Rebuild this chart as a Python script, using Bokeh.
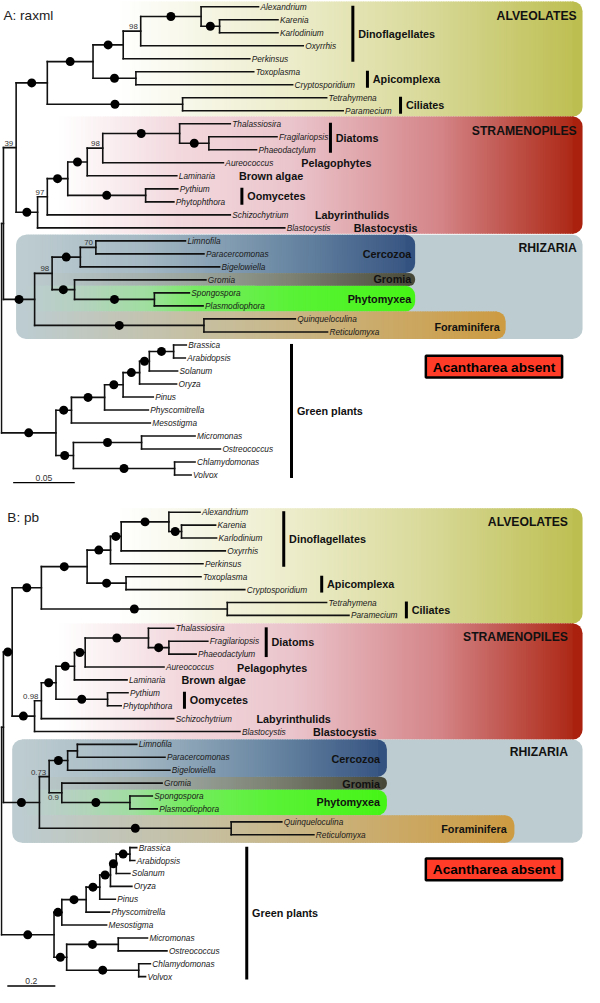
import numpy as np
from bokeh.plotting import figure
from bokeh.models import Range1d
from bokeh.core.properties import value
from bokeh.embed import file_html
from bokeh.resources import INLINE

# ---------------- DATA ----------------
# Branch lengths in substitutions/site, '*' = maximal support (black dot), numbers = support values
alv_A = "(((((Alexandrium:0.0466,(Karenia:0.0474,Karlodinium:0.0474)*:0.0150)*:0.0490,Oxyrrhis:0.1319)98:0.0142,Perkinsus:0.1027)*:0.0245,(Toxoplasma:0.0956,Cryptosporidium:0.1272)*:0.0348)*:0.0371,(Tetrahymena:0.1169,Paramecium:0.1303)*:0.1098)*:0.0253"
stram_A = "((((((Thalassiosira:0.0411,(Fragilariopsis:0.0553,Phaeodactylum:0.0387)*:0.0237)*:0.0624,Aureococcus:0.0979)98:0.0126,Laminaria:0.0727)*:0.0158,(Pythium:0.0261,Phytophthora:0.0229)*:0.0632)*:0.0166,Schizochytrium:0.1485)97:0.0079,Blastocystis:0.2006)*:0.0174"
rhiz_A = "((((Limnofila:0.0727,Paracercomonas:0.0877)70:0.0126,Bigelowiella:0.1130)*:0.0229,(Gromia:0.1066,(Spongospora:0.0284,Plasmodiophora:0.0395)*:0.0648)*:0.0182)98:0.0142,(Quinqueloculina:0.0742,Reticulomyxa:0.1003)*:0.1374)*:0.0253"
green_A = "(((((((Brassica:0.0103,Arabidopsis:0.0095)*:0.0197,Solanum:0.0229)*:0.0079,Oryza:0.0300)*:0.0134,Pinus:0.0245)*:0.0150,Physcomitrella:0.0355)*:0.0269,Mesostigma:0.0640)*:0.0126,((Micromonas:0.0434,Ostreococcus:0.0640)*:0.0553,(Chlamydomonas:0.0166,Volvox:0.0134)*:0.0821)*:0.0142)*:0.0442"
tree_A = f"((({alv_A},{stram_A})39:0.0103,{rhiz_A}):0.0016,{green_A});"

alv_B = "(((((Alexandrium:0.1297,(Karenia:0.1419,Karlodinium:0.1459)*:0.0527)*:0.1986,Oxyrrhis:0.4337)*:0.0446,Perkinsus:0.3851)*:0.0973,(Toxoplasma:0.3121,Cryptosporidium:0.4945)*:0.1621)*:0.1905,(Tetrahymena:0.4135,Paramecium:0.5067)*:0.7742)*:0.1216"
stram_B = "((((((Thalassiosira:0.1054,(Fragilariopsis:0.1621,Phaeodactylum:0.1135)*:0.0851)*:0.2635,Aureococcus:0.3283)*:0.0446,Laminaria:0.2189)*:0.0770,(Pythium:0.0851,Phytophthora:0.0567)*:0.2148)*:0.0608,Schizochytrium:0.5513)0.98:0.0284,Blastocystis:0.8553)*:0.0932"
rhiz_B = "((((Limnofila:0.2473,Paracercomonas:0.3648):0.0405,Bigelowiella:0.4256)*:0.0770,(Gromia:0.4175,(Spongospora:0.0932,Plasmodiophora:0.1135)*:0.2837)0.9:0.0527)0.73:0.0405,(Quinqueloculina:0.2108,Reticulomyxa:0.3445)*:0.7985)*:0.1500"
green_B = "(((((((Brassica:0.0284,Arabidopsis:0.0203)*:0.0567,Solanum:0.0567)*:0.0243,Oryza:0.0892)*:0.0446,Pinus:0.0649)*:0.0567,Physcomitrella:0.0973)*:0.1013,Mesostigma:0.1865)*:0.0324,((Micromonas:0.1216,Ostreococcus:0.2027)*:0.2148,(Chlamydomonas:0.0486,Volvox:0.0284)*:0.3000)*:0.0527)*:0.2189"
tree_B = f"((({alv_B},{stram_B})*:0.0365,{rhiz_B}):0.0081,{green_B});"

titles = ["A: raxml", "B: pb"]
scale_values = [0.05, 0.2]
scale_labels = ["0.05", "0.2"]
labels_below = ["0.9"]

# clade labels: (text, first leaf, last leaf, has bar)
groups = [("Dinoflagellates", "Alexandrium", "Perkinsus", True),
          ("Apicomplexa", "Toxoplasma", "Cryptosporidium", True),
          ("Ciliates", "Tetrahymena", "Paramecium", True),
          ("Diatoms", "Thalassiosira", "Phaeodactylum", True),
          ("Pelagophytes", "Aureococcus", "Aureococcus", False),
          ("Brown algae", "Laminaria", "Laminaria", False),
          ("Oomycetes", "Pythium", "Phytophthora", True),
          ("Labyrinthulids", "Schizochytrium", "Schizochytrium", False),
          ("Blastocystis", "Blastocystis", "Blastocystis", False),
          ("Green plants", "Brassica", "Volvox", True)]
supergroups = ["ALVEOLATES", "STRAMENOPILES", "RHIZARIA"]
rhizaria_groups = ["Cercozoa", "Gromia", "Phytomyxea", "Foraminifera"]
absent_label = "Acantharea absent"

# ---------------- LAYOUT (positions in reference-pixel units) ----------------
panels = [
    dict(tree=tree_A, x_root=1, y_first=6.3, dy=13.22, ppu=1266.0, title_xy=(3, 15),
         scale_x=13, scale_y=490,
         group_x=[362, 377, 411, 339, 309, 245, 248, 323, 363, 299],
         alv=(1, 118), stram=(118, 237), rh=(16, 238, 344),
         bands=[(238, 277, 426, 10), (277, 290, 426, 6), (290, 316, 426, 10), (316, 344, 519, 10)],
         super_x=592, super_y=[16, 133, 252], rg_x=[422, 422, 422, 513], rg_y=[258, 283, 303, 332],
         absent=(437, 577, 361, 383)),
    dict(tree=tree_B, x_root=1, y_first=520, dy=13.11, ppu=246.7, title_xy=(7, 525),
         scale_x=7, scale_y=1001.5,
         group_x=[291, 330, 417, 273, 243, 186, 189, 263, 321, 253],
         alv=(516, 633), stram=(633, 751), rh=(12, 751, 856),
         bands=[(751, 789, 397, 10), (789, 802, 397, 6), (802, 828, 397, 10), (828, 856, 528, 10)],
         super_x=583, super_y=[530, 647, 764], rg_x=[390, 390, 390, 520], rg_y=[771, 796, 815, 842],
         absent=(437, 577, 872, 894)),
]

RH = (189, 204, 208)
alv_stops = [(0, (255, 255, 255)), (0.38, (236, 236, 202)), (0.67, (216, 217, 152)), (1, (189, 190, 80))]
stram_stops = [(0, (255, 255, 255)), (0.22, (243, 218, 223)), (0.45, (234, 196, 203)), (0.73, (212, 132, 135)), (1, (170, 34, 14))]
band_stops = [
    [(0, RH), (0.3, (165, 185, 196)), (0.68, (105, 135, 163)), (1, (52, 82, 128))],
    [(0, RH), (0.43, (155, 165, 158)), (0.68, (125, 130, 115)), (1, (72, 72, 56))],
    [(0, RH), (0.15, (180, 210, 190)), (0.31, (160, 222, 160)), (0.435, (120, 235, 100)), (0.68, (90, 242, 55)), (1, (70, 245, 22))],
    [(0, RH), (0.45, (200, 188, 150)), (1, (205, 155, 66))],
]

F = "Liberation Sans"


def parse_newick(s):
    pos = 0

    def node():
        nonlocal pos
        kids = []
        if s[pos] == "(":
            pos += 1
            kids.append(node())
            while s[pos] == ",":
                pos += 1
                kids.append(node())
            pos += 1
        st = pos
        while s[pos] not in ":,);":
            pos += 1
        name = s[st:pos]
        length = 0.0
        if s[pos] == ":":
            pos += 1
            st = pos
            while s[pos] not in ",);":
                pos += 1
            length = float(s[st:pos])
        return {"name": name, "len": length, "kids": kids}
    return node()


def layout(tree, x_root, y_first, dy, ppu):
    o = {k: [] for k in ["hx0", "hx1", "hy", "vx", "vy0", "vy1", "dotx", "doty",
                         "sx", "sy", "st", "bx", "by", "bt", "lx", "ly", "lt"]}
    leafy = {}
    cnt = [0]

    def rec(n, px, root=False):
        x = px if root else px + n["len"] * ppu
        if n["kids"]:
            for k in n["kids"]:
                rec(k, x)
            y = (n["kids"][0]["y"] + n["kids"][-1]["y"]) / 2
            o["vx"].append(x); o["vy0"].append(n["kids"][0]["y"]); o["vy1"].append(n["kids"][-1]["y"])
        else:
            y = y_first + cnt[0] * dy
            cnt[0] += 1
            o["lx"].append(x + 2); o["ly"].append(y); o["lt"].append(n["name"])
            leafy[n["name"]] = y
        n["x"], n["y"] = x, y
        if not root:
            o["hx0"].append(px); o["hx1"].append(x); o["hy"].append(y)
            if n["kids"] and n["name"] == "*":
                o["dotx"].append((px + x) / 2); o["doty"].append(y)
            elif n["kids"] and n["name"]:
                if n["name"] in labels_below:
                    o["bx"].append(x - 3); o["by"].append(y + 2); o["bt"].append(n["name"])
                else:
                    o["sx"].append(x - 3); o["sy"].append(y - 2); o["st"].append(n["name"])
    rec(tree, x_root, True)
    return o, leafy


def lerp_color(stops, t):
    t = min(max(t, 0.0), 1.0)
    for (t0, c0), (t1, c1) in zip(stops[:-1], stops[1:]):
        if t <= t1:
            f = (t - t0) / (t1 - t0) if t1 > t0 else 0
            return "#%02x%02x%02x" % tuple(int(round(a + (b - a) * f)) for a, b in zip(c0, c1))
    return "#%02x%02x%02x" % stops[-1][1]


p = figure(width=584, height=987, x_range=Range1d(0, 600), y_range=Range1d(1003, 0),
           output_backend="svg", toolbar_location=None, x_axis_type=None, y_axis_type=None,
           min_border=0)
p.grid.visible = False
p.outline_line_color = None
p.background_fill_color = "white"


def grad_box(x0, x1, top, bottom, stops, r, step=2.5):
    xe = x1 - r
    lefts = np.arange(x0, xe, step)
    rights = np.minimum(lefts + step + 0.9, xe + 0.6)
    cols = [lerp_color(stops, ((l + rr) / 2 - x0) / (x1 - x0)) for l, rr in zip(lefts, rights)]
    p.quad(left=lefts, right=rights, top=top, bottom=bottom, fill_color=cols, line_color=None)
    p.quad(left=[xe], right=[x1], top=[top], bottom=[bottom], fill_color=lerp_color(stops, 1.0),
           line_color=None, border_radius=(0, r, r, 0))


for i, P in enumerate(panels):
    o, leafy = layout(parse_newick(P["tree"]), P["x_root"], P["y_first"], P["dy"], P["ppu"])

    # coloured clade boxes
    grad_box(120, 598, P["alv"][0], P["alv"][1], alv_stops, 10)
    grad_box(60, 598, P["stram"][0], P["stram"][1], stram_stops, 10)
    rx0, rt, rb = P["rh"]
    p.quad(left=[rx0], right=[598], top=[rt], bottom=[rb], fill_color="#bdccd0", line_color=None,
           border_radius=10)
    for (bt, bb, bx1, r), st in zip(P["bands"], band_stops):
        grad_box(rx0 + 10, bx1, bt, bb, st, r)
    ax0, ax1, at, ab = P["absent"]
    p.quad(left=[ax0], right=[ax1], top=[at], bottom=[ab], fill_color="#ff3c28",
           line_color="black", line_width=2.5)
    p.text(x=[(ax0 + ax1) / 2], y=[(at + ab) / 2 + 0.5], text=[absent_label], text_font=value(F),
           text_font_size="13.7px", text_font_style="bold", text_align="center",
           text_baseline="middle", text_color="black")

    # tree
    p.segment(x0=o["hx0"], y0=o["hy"], x1=o["hx1"], y1=o["hy"], line_color="#111111",
              line_width=1.6, line_cap="square")
    p.segment(x0=o["vx"], y0=o["vy0"], x1=o["vx"], y1=o["vy1"], line_color="#111111",
              line_width=1.6, line_cap="square")
    p.scatter(x=o["dotx"], y=o["doty"], size=9, fill_color="black", line_color=None)
    p.text(x=o["lx"], y=o["ly"], text=o["lt"], text_font=value(F), text_font_size="8.3px",
           text_font_style="italic", text_baseline="middle", text_align="left", text_color="#1a1a1a")
    p.text(x=o["sx"], y=o["sy"], text=o["st"], text_font=value(F), text_font_size="7.9px",
           text_baseline="bottom", text_align="right", text_color="#333333")
    if o["bt"]:
        p.text(x=o["bx"], y=o["by"], text=o["bt"], text_font=value(F), text_font_size="7.9px",
               text_baseline="top", text_align="right", text_color="#333333")

    # clade labels with bars
    bar_x0, bar_y0, bar_y1, gx, gy, gt = [], [], [], [], [], []
    for (name, first, last, has_bar), x in zip(groups, P["group_x"]):
        if has_bar:
            y0, y1 = leafy[first] - 1, leafy[last] + 3
            bar_x0.append(x); bar_y0.append(y0); bar_y1.append(y1)
            gx.append(x + 5.5); gy.append((y0 + y1) / 2)
        else:
            gx.append(x); gy.append(leafy[first] + 0.5)
        gt.append(name)
    p.segment(x0=bar_x0, y0=bar_y0, x1=bar_x0, y1=bar_y1, line_color="black", line_width=3)
    p.text(x=gx, y=gy, text=gt, text_font=value(F), text_font_size="10.8px", text_font_style="bold",
           text_baseline="middle", text_color="#111111")

    # supergroup labels
    p.text(x=[P["super_x"]] * 3, y=P["super_y"], text=supergroups, text_font=value(F),
           text_font_size="12.2px", text_font_style="bold", text_align="right",
           text_baseline="middle", text_color="#111111")
    p.text(x=P["rg_x"], y=P["rg_y"], text=rhizaria_groups, text_font=value(F),
           text_font_size="10.8px", text_font_style="bold", text_align="right",
           text_baseline="middle", text_color="#111111")

    # title
    p.text(x=[P["title_xy"][0]], y=[P["title_xy"][1]], text=[titles[i]], text_font=value(F),
           text_font_size="13.6px", text_baseline="middle", text_color="#222222")

    # scale bar
    sx0 = P["scale_x"]
    sx1 = sx0 + scale_values[i] * P["ppu"]
    p.segment(x0=[sx0], y0=[P["scale_y"]], x1=[sx1], y1=[P["scale_y"]], line_color="black", line_width=1.3)
    p.text(x=[(sx0 + sx1) / 2], y=[P["scale_y"] - 2], text=[scale_labels[i]], text_font=value(F),
           text_font_size="8.6px", text_align="center", text_baseline="bottom", text_color="#333333")

open("out.html", "w").write(file_html(p, INLINE))
